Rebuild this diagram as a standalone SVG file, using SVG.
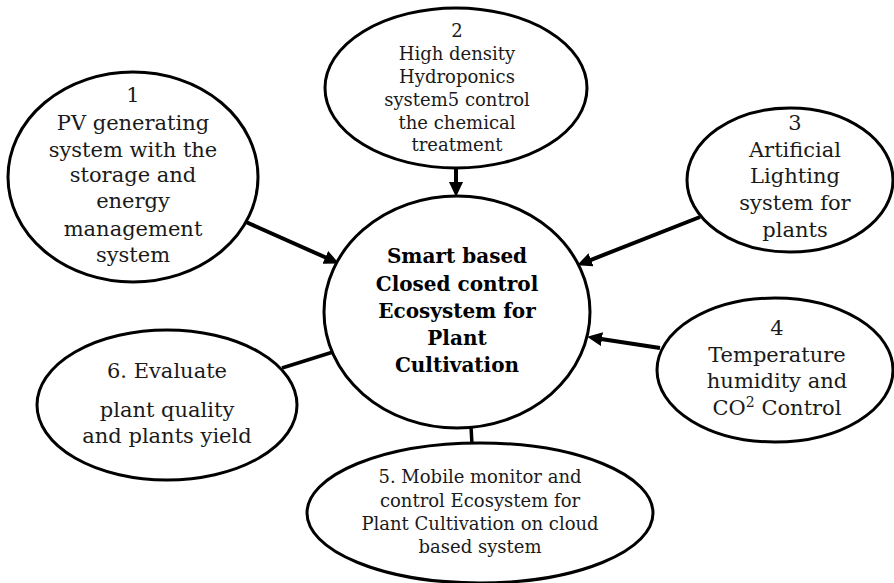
<svg xmlns="http://www.w3.org/2000/svg" width="894" height="583" viewBox="0 0 894 583">
<style>
.node ellipse{fill:#fff;stroke:#000;stroke-width:3}
text{font-family:"DejaVu Serif","Liberation Serif",serif;fill:#1a1a1a;text-anchor:middle}
.t21{font-size:21px}
.t18{font-size:18px}
.b{font-size:20px;font-weight:bold;fill:#000}
.arr{stroke:#000;stroke-width:4;fill:none;marker-end:url(#ah)}
.ln{stroke:#000;stroke-width:3.5;fill:none}
</style>
<defs>
<marker id="ah" markerUnits="userSpaceOnUse" markerWidth="16" markerHeight="14" refX="4" refY="7" orient="auto">
<path d="M0,0 L15,7 L0,14 z" fill="#000"/>
</marker>
</defs>
<rect width="894" height="583" fill="#fff"/>
<g id="connectors">
<line class="arr" x1="246" y1="222" x2="329" y2="259"/>
<line class="arr" x1="456" y1="168" x2="456" y2="186"/>
<line class="arr" x1="700" y1="217" x2="587.3" y2="261.3"/>
<line class="arr" x1="660" y1="348" x2="598" y2="338.5"/>
<line class="ln" x1="282" y1="368" x2="333" y2="352"/>
<line class="ln" x1="471" y1="427" x2="472" y2="444"/>
</g>
<g id="center" class="node">
<ellipse cx="457" cy="312" rx="133" ry="116"/>
<text class="b"><tspan x="457" y="263">Smart based</tspan><tspan x="457" y="291">Closed control</tspan><tspan x="457" y="318">Ecosystem for</tspan><tspan x="457" y="345">Plant</tspan><tspan x="457" y="372">Cultivation</tspan></text>
</g>
<g id="node1" class="node">
<ellipse cx="133" cy="177" rx="125" ry="105"/>
<text class="t21"><tspan x="133" y="102">1</tspan><tspan x="133" y="130">PV generating</tspan><tspan x="133" y="157">system with the</tspan><tspan x="133" y="182">storage and</tspan><tspan x="133" y="208">energy</tspan><tspan x="133" y="236">management</tspan><tspan x="133" y="262">system</tspan></text>
</g>
<g id="node2" class="node">
<ellipse cx="456" cy="88" rx="131" ry="80"/>
<text class="t18"><tspan x="457" y="37">2</tspan><tspan x="457" y="60">High density</tspan><tspan x="457" y="83">Hydroponics</tspan><tspan x="457" y="106">system5 control</tspan><tspan x="457" y="129">the chemical</tspan><tspan x="457" y="151">treatment</tspan></text>
</g>
<g id="node3" class="node">
<ellipse cx="790" cy="180" rx="103" ry="72"/>
<text class="t21"><tspan x="795" y="130">3</tspan><tspan x="795" y="157">Artificial</tspan><tspan x="795" y="183">Lighting</tspan><tspan x="795" y="210">system for</tspan><tspan x="795" y="237">plants</tspan></text>
</g>
<g id="node4" class="node">
<ellipse cx="775" cy="370" rx="118" ry="72"/>
<text class="t21"><tspan x="777" y="335">4</tspan><tspan x="777" y="362">Temperature</tspan><tspan x="777" y="388">humidity and</tspan><tspan x="777" y="415">CO<tspan font-size="14" dy="-8">2</tspan><tspan dy="8"> Control</tspan></tspan></text>
</g>
<g id="node5" class="node">
<ellipse cx="480" cy="513" rx="173" ry="70"/>
<text class="t18"><tspan x="480" y="483">5. Mobile monitor and</tspan><tspan x="480" y="507">control Ecosystem for</tspan><tspan x="480" y="530">Plant Cultivation on cloud</tspan><tspan x="480" y="553">based system</tspan></text>
</g>
<g id="node6" class="node">
<ellipse cx="167" cy="405" rx="130" ry="75"/>
<text class="t21"><tspan x="167" y="378">6. Evaluate</tspan><tspan x="167" y="417">plant quality</tspan><tspan x="167" y="443">and plants yield</tspan></text>
</g>
</svg>
